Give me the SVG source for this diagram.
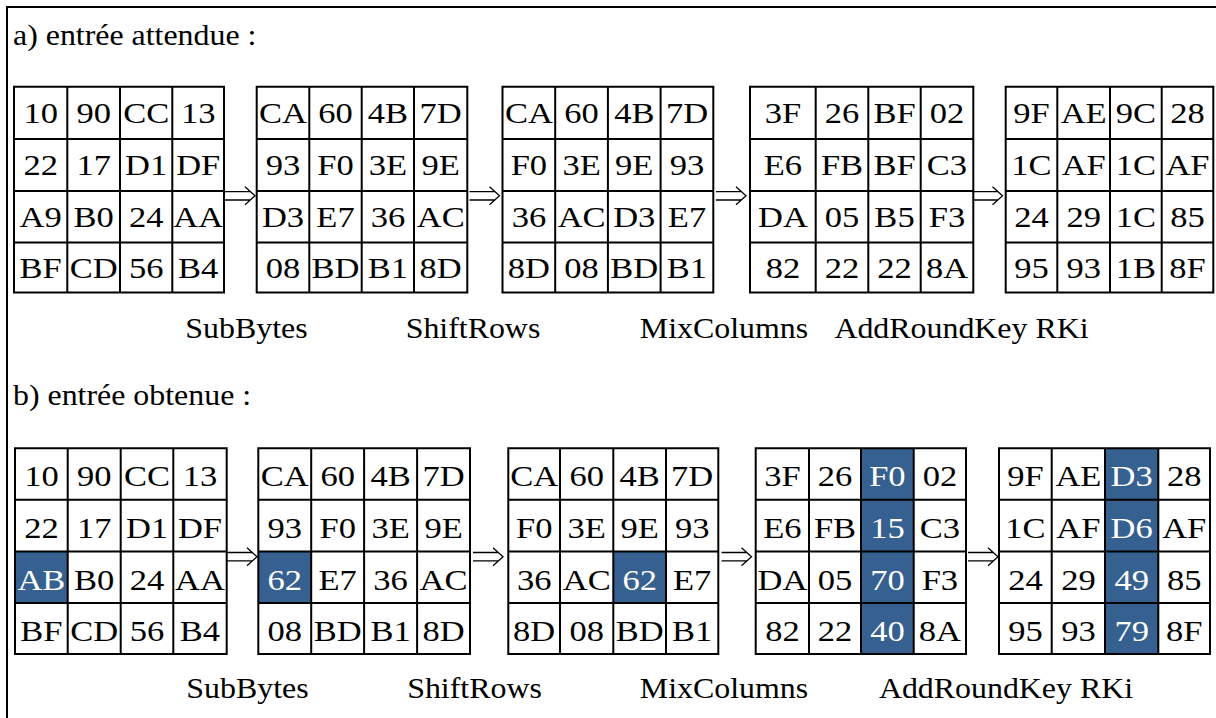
<svg xmlns="http://www.w3.org/2000/svg" width="1216" height="718" viewBox="0 0 1216 718">
<style>
.g{fill:none;stroke:#000;stroke-width:2}
.fr{fill:none;stroke:#000;stroke-width:2}
.hl{fill:#36608f;stroke:none}
.t{font-family:"Liberation Serif","Times New Roman",serif;font-size:29px;fill:#000;text-anchor:middle;transform-box:fill-box;transform-origin:center;transform:scaleX(1.19)}
.w{fill:#fff}
.l{transform:scaleX(1.1)}
.lb{text-anchor:start;transform-origin:left center}
.arr{fill:none;stroke:#000;stroke-width:1.3}
</style>
<defs>
<path id="arrow" class="arr" d="M0,-4.2H25M0,4.2H25M20,-9L30,0L20,9"/>
</defs>
<rect width="1216" height="718" fill="#fff"/>
<path class="fr" d="M7,718V7H1216"/>
<text class="t l lb" x="13" y="45">a) entrée attendue :</text>
<text class="t l lb" x="13" y="405">b) entrée obtenue :</text>

<g id="a1">
<path class="g" d="M14,86.8H224V292.4H14ZM67.3,86.8V292.4M120,86.8V292.4M172.3,86.8V292.4M14,139H224M14,191H224M14,242.6H224"/>
<text class="t" x="40.7" y="123.5">10</text><text class="t" x="93.7" y="123.5">90</text><text class="t" x="146.2" y="123.5">CC</text><text class="t" x="198.2" y="123.5">13</text>
<text class="t" x="40.7" y="175">22</text><text class="t" x="93.7" y="175">17</text><text class="t" x="146.2" y="175">D1</text><text class="t" x="198.2" y="175">DF</text>
<text class="t" x="40.7" y="226.7">A9</text><text class="t" x="93.7" y="226.7">B0</text><text class="t" x="146.2" y="226.7">24</text><text class="t" x="198.2" y="226.7">AA</text>
<text class="t" x="40.7" y="277.8">BF</text><text class="t" x="93.7" y="277.8">CD</text><text class="t" x="146.2" y="277.8">56</text><text class="t" x="198.2" y="277.8">B4</text>
</g>
<g id="a2">
<path class="g" d="M256.7,86.8H467.3V292.4H256.7ZM309.3,86.8V292.4M361.7,86.8V292.4M414,86.8V292.4M256.7,139H467.3M256.7,191H467.3M256.7,242.6H467.3"/>
<text class="t" x="283" y="123.5">CA</text><text class="t" x="335.5" y="123.5">60</text><text class="t" x="387.9" y="123.5">4B</text><text class="t" x="440.7" y="123.5">7D</text>
<text class="t" x="283" y="175">93</text><text class="t" x="335.5" y="175">F0</text><text class="t" x="387.9" y="175">3E</text><text class="t" x="440.7" y="175">9E</text>
<text class="t" x="283" y="226.7">D3</text><text class="t" x="335.5" y="226.7">E7</text><text class="t" x="387.9" y="226.7">36</text><text class="t" x="440.7" y="226.7">AC</text>
<text class="t" x="283" y="277.8">08</text><text class="t" x="335.5" y="277.8">BD</text><text class="t" x="387.9" y="277.8">B1</text><text class="t" x="440.7" y="277.8">8D</text>
</g>
<g id="a3">
<path class="g" d="M502.5,86.8H713.3V292.4H502.5ZM555.2,86.8V292.4M607.9,86.8V292.4M660.6,86.8V292.4M502.5,139H713.3M502.5,191H713.3M502.5,242.6H713.3"/>
<text class="t" x="528.9" y="123.5">CA</text><text class="t" x="581.6" y="123.5">60</text><text class="t" x="634.3" y="123.5">4B</text><text class="t" x="687" y="123.5">7D</text>
<text class="t" x="528.9" y="175">F0</text><text class="t" x="581.6" y="175">3E</text><text class="t" x="634.3" y="175">9E</text><text class="t" x="687" y="175">93</text>
<text class="t" x="528.9" y="226.7">36</text><text class="t" x="581.6" y="226.7">AC</text><text class="t" x="634.3" y="226.7">D3</text><text class="t" x="687" y="226.7">E7</text>
<text class="t" x="528.9" y="277.8">8D</text><text class="t" x="581.6" y="277.8">08</text><text class="t" x="634.3" y="277.8">BD</text><text class="t" x="687" y="277.8">B1</text>
</g>
<g id="a4">
<path class="g" d="M750,86.8H973.3V292.4H750ZM815.7,86.8V292.4M868.3,86.8V292.4M920.7,86.8V292.4M750,139H973.3M750,191H973.3M750,242.6H973.3"/>
<text class="t" x="782.9" y="123.5">3F</text><text class="t" x="842" y="123.5">26</text><text class="t" x="894.5" y="123.5">BF</text><text class="t" x="947" y="123.5">02</text>
<text class="t" x="782.9" y="175">E6</text><text class="t" x="842" y="175">FB</text><text class="t" x="894.5" y="175">BF</text><text class="t" x="947" y="175">C3</text>
<text class="t" x="782.9" y="226.7">DA</text><text class="t" x="842" y="226.7">05</text><text class="t" x="894.5" y="226.7">B5</text><text class="t" x="947" y="226.7">F3</text>
<text class="t" x="782.9" y="277.8">82</text><text class="t" x="842" y="277.8">22</text><text class="t" x="894.5" y="277.8">22</text><text class="t" x="947" y="277.8">8A</text>
</g>
<g id="a5">
<path class="g" d="M1005.7,86.8H1213.3V292.4H1005.7ZM1057.3,86.8V292.4M1110,86.8V292.4M1161.7,86.8V292.4M1005.7,139H1213.3M1005.7,191H1213.3M1005.7,242.6H1213.3"/>
<text class="t" x="1031.5" y="123.5">9F</text><text class="t" x="1083.7" y="123.5">AE</text><text class="t" x="1135.9" y="123.5">9C</text><text class="t" x="1187.5" y="123.5">28</text>
<text class="t" x="1031.5" y="175">1C</text><text class="t" x="1083.7" y="175">AF</text><text class="t" x="1135.9" y="175">1C</text><text class="t" x="1187.5" y="175">AF</text>
<text class="t" x="1031.5" y="226.7">24</text><text class="t" x="1083.7" y="226.7">29</text><text class="t" x="1135.9" y="226.7">1C</text><text class="t" x="1187.5" y="226.7">85</text>
<text class="t" x="1031.5" y="277.8">95</text><text class="t" x="1083.7" y="277.8">93</text><text class="t" x="1135.9" y="277.8">1B</text><text class="t" x="1187.5" y="277.8">8F</text>
</g>
<g id="a-labels">
<text class="t l" x="246.5" y="338">SubBytes</text>
<text class="t l" x="473" y="338">ShiftRows</text>
<text class="t l" x="724" y="338">MixColumns</text>
<text class="t l" x="961.5" y="338">AddRoundKey RKi</text>
</g>

<g id="b1">
<rect class="hl" x="15" y="551.4" width="52.7" height="51.6"/>
<path class="g" d="M15,448.3H226.7V654H15ZM67.7,448.3V654M120.7,448.3V654M173.3,448.3V654M15,499.8H226.7M15,551.4H226.7M15,603H226.7"/>
<text class="t" x="41.4" y="486.5">10</text><text class="t" x="94.2" y="486.5">90</text><text class="t" x="147" y="486.5">CC</text><text class="t" x="200" y="486.5">13</text>
<text class="t" x="41.4" y="538">22</text><text class="t" x="94.2" y="538">17</text><text class="t" x="147" y="538">D1</text><text class="t" x="200" y="538">DF</text>
<text class="t w" x="41.4" y="589.7">AB</text><text class="t" x="94.2" y="589.7">B0</text><text class="t" x="147" y="589.7">24</text><text class="t" x="200" y="589.7">AA</text>
<text class="t" x="41.4" y="641.3">BF</text><text class="t" x="94.2" y="641.3">CD</text><text class="t" x="147" y="641.3">56</text><text class="t" x="200" y="641.3">B4</text>
</g>
<g id="b2">
<rect class="hl" x="258.3" y="551.4" width="52.9" height="51.6"/>
<path class="g" d="M258.3,448.3H470V654H258.3ZM311.2,448.3V654M364.1,448.3V654M417.1,448.3V654M258.3,499.8H470M258.3,551.4H470M258.3,603H470"/>
<text class="t" x="284.8" y="486.5">CA</text><text class="t" x="337.7" y="486.5">60</text><text class="t" x="390.6" y="486.5">4B</text><text class="t" x="443.6" y="486.5">7D</text>
<text class="t" x="284.8" y="538">93</text><text class="t" x="337.7" y="538">F0</text><text class="t" x="390.6" y="538">3E</text><text class="t" x="443.6" y="538">9E</text>
<text class="t w" x="284.8" y="589.7">62</text><text class="t" x="337.7" y="589.7">E7</text><text class="t" x="390.6" y="589.7">36</text><text class="t" x="443.6" y="589.7">AC</text>
<text class="t" x="284.8" y="641.3">08</text><text class="t" x="337.7" y="641.3">BD</text><text class="t" x="390.6" y="641.3">B1</text><text class="t" x="443.6" y="641.3">8D</text>
</g>
<g id="b3">
<rect class="hl" x="613.3" y="551.4" width="52.7" height="51.6"/>
<path class="g" d="M508.3,448.3H718.3V654H508.3ZM560,448.3V654M613.3,448.3V654M666,448.3V654M508.3,499.8H718.3M508.3,551.4H718.3M508.3,603H718.3"/>
<text class="t" x="534.2" y="486.5">CA</text><text class="t" x="586.7" y="486.5">60</text><text class="t" x="639.7" y="486.5">4B</text><text class="t" x="692.2" y="486.5">7D</text>
<text class="t" x="534.2" y="538">F0</text><text class="t" x="586.7" y="538">3E</text><text class="t" x="639.7" y="538">9E</text><text class="t" x="692.2" y="538">93</text>
<text class="t" x="534.2" y="589.7">36</text><text class="t" x="586.7" y="589.7">AC</text><text class="t w" x="639.7" y="589.7">62</text><text class="t" x="692.2" y="589.7">E7</text>
<text class="t" x="534.2" y="641.3">8D</text><text class="t" x="586.7" y="641.3">08</text><text class="t" x="639.7" y="641.3">BD</text><text class="t" x="692.2" y="641.3">B1</text>
</g>
<g id="b4">
<rect class="hl" x="861" y="448.3" width="52.7" height="205.7"/>
<path class="g" d="M755.7,448.3H966V654H755.7ZM809,448.3V654M861,448.3V654M913.7,448.3V654M755.7,499.8H966M755.7,551.4H966M755.7,603H966"/>
<text class="t" x="782.4" y="486.5">3F</text><text class="t" x="835" y="486.5">26</text><text class="t w" x="887.4" y="486.5">F0</text><text class="t" x="939.9" y="486.5">02</text>
<text class="t" x="782.4" y="538">E6</text><text class="t" x="835" y="538">FB</text><text class="t w" x="887.4" y="538">15</text><text class="t" x="939.9" y="538">C3</text>
<text class="t" x="782.4" y="589.7">DA</text><text class="t" x="835" y="589.7">05</text><text class="t w" x="887.4" y="589.7">70</text><text class="t" x="939.9" y="589.7">F3</text>
<text class="t" x="782.4" y="641.3">82</text><text class="t" x="835" y="641.3">22</text><text class="t w" x="887.4" y="641.3">40</text><text class="t" x="939.9" y="641.3">8A</text>
</g>
<g id="b5">
<rect class="hl" x="1105" y="448.3" width="53.3" height="205.7"/>
<path class="g" d="M999,448.3H1210V654H999ZM1051.7,448.3V654M1105,448.3V654M1158.3,448.3V654M999,499.8H1210M999,551.4H1210M999,603H1210"/>
<text class="t" x="1025.4" y="486.5">9F</text><text class="t" x="1078.4" y="486.5">AE</text><text class="t w" x="1131.7" y="486.5">D3</text><text class="t" x="1184.2" y="486.5">28</text>
<text class="t" x="1025.4" y="538">1C</text><text class="t" x="1078.4" y="538">AF</text><text class="t w" x="1131.7" y="538">D6</text><text class="t" x="1184.2" y="538">AF</text>
<text class="t" x="1025.4" y="589.7">24</text><text class="t" x="1078.4" y="589.7">29</text><text class="t w" x="1131.7" y="589.7">49</text><text class="t" x="1184.2" y="589.7">85</text>
<text class="t" x="1025.4" y="641.3">95</text><text class="t" x="1078.4" y="641.3">93</text><text class="t w" x="1131.7" y="641.3">79</text><text class="t" x="1184.2" y="641.3">8F</text>
</g>
<g id="b-labels">
<text class="t l" x="247.5" y="698">SubBytes</text>
<text class="t l" x="474.5" y="698">ShiftRows</text>
<text class="t l" x="724" y="698">MixColumns</text>
<text class="t l" x="1006" y="698">AddRoundKey RKi</text>
</g>

<g id="connectors">
<use href="#arrow" x="225" y="195.8"/>
<use href="#arrow" x="469.5" y="195.8"/>
<use href="#arrow" x="716" y="195.8"/>
<use href="#arrow" x="972.5" y="195.8"/>
<use href="#arrow" x="227" y="556.7"/>
<use href="#arrow" x="473" y="556.7"/>
<use href="#arrow" x="721.5" y="556.7"/>
<use href="#arrow" x="968" y="556.7"/>
</g>
</svg>
